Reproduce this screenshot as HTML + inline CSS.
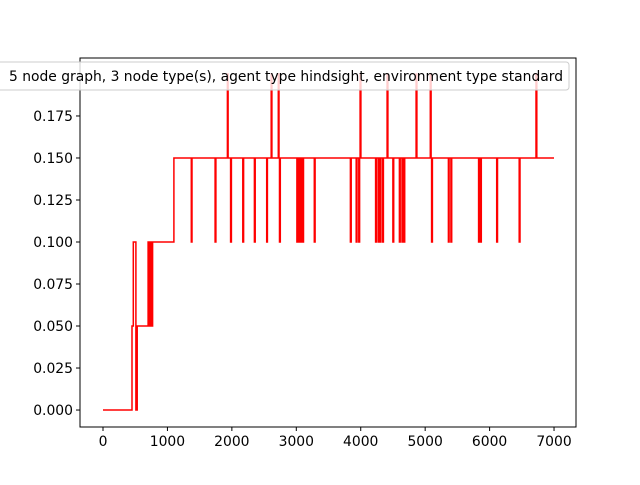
<!DOCTYPE html>
<html><head><meta charset="utf-8"><style>
body{margin:0;background:#fff}
svg{font-family:"DejaVu Sans","Liberation Sans",sans-serif;font-size:13.9px}
</style></head><body>
<svg id="c" width="640" height="480">
<rect x="0" y="0" width="640" height="480" fill="#fff"/>
<g id="plot"></g>
<rect x="80" y="58" width="496" height="369" fill="none" stroke="#000" stroke-width="1"/>
<g id="ticks"></g>
<g>
<rect x="-4" y="62" width="573" height="28" rx="3" fill="#fff" fill-opacity="0.8" stroke="#ccc"/>
<text x="9" y="81" textLength="554" lengthAdjust="spacingAndGlyphs" font-size="13.9">5 node graph, 3 node type(s), agent type hindsight, environment type standard</text>
</g>
</svg>
<script>
const baseX=[0,450,470,510,530,700,720,740,760,770,1100,7000];
const baseY=[0,0.05,0.1,0,0.05,0.1,0.05,0.1,0.05,0.1,0.15,0.15];
const downSpikes=[1370,1740,1980,2170,2350,2540,2740,3010,3040,3070,3100,3280,3840,3930,3970,4230,4270,4300,4340,4500,4600,4640,4670,5100,5360,5400,5830,5860,6110,6460];
const upSpikes=[1930,2610,2720,3990,4410,4860,5080,6720];
const downVal=0.1, upVal=0.2;
const xTicks=[0,1000,2000,3000,4000,5000,6000,7000];
const yTicks=[0,0.025,0.05,0.075,0.1,0.125,0.15,0.175];
const X0=80,X1=576,Y0=427,Y1=58,xmin=-357,xmax=7341,ymin=-0.0101,ymax=0.2095;
const sx=v=>X0+(v-xmin)/(xmax-xmin)*(X1-X0);
const sy=v=>Y0-(v-ymin)/(ymax-ymin)*(Y0-Y1);
const NS="http://www.w3.org/2000/svg";
let pts=[];
for(let i=0;i<baseX.length-1;i++){pts.push([baseX[i],baseY[i]]);pts.push([baseX[i+1],baseY[i]]);}
let final=pts.filter(p=>p[0]<=1100);
let spikes=downSpikes.map(x=>[x,downVal]).concat(upSpikes.map(x=>[x,upVal])).sort((a,b)=>a[0]-b[0]);
let lastBase=baseY[baseY.length-1];
spikes.forEach(s=>{final.push([s[0],lastBase]);final.push([s[0],s[1]]);final.push([s[0]+12,s[1]]);final.push([s[0]+12,lastBase]);});
final.push([baseX[baseX.length-1],lastBase]);
const pl=document.createElementNS(NS,'polyline');
pl.setAttribute('points',final.map(p=>sx(p[0]).toFixed(1)+','+sy(p[1]).toFixed(1)).join(' '));
pl.setAttribute('fill','none');pl.setAttribute('stroke','#ff0000');pl.setAttribute('stroke-width','1.5');


document.getElementById('plot').appendChild(pl);
const tg=document.getElementById('ticks');
xTicks.forEach(t=>{
 const l=document.createElementNS(NS,'line');
 l.setAttribute('x1',sx(t));l.setAttribute('x2',sx(t));l.setAttribute('y1',Y0);l.setAttribute('y2',Y0+4);l.setAttribute('stroke','#000');
 
 
 tg.appendChild(l);
 const tx=document.createElementNS(NS,'text');
 tx.setAttribute('x',sx(t));tx.setAttribute('y',Y0+19);tx.setAttribute('text-anchor','middle');tx.textContent=t;
 
 
 tg.appendChild(tx);
});
yTicks.forEach(t=>{
 const l=document.createElementNS(NS,'line');
 l.setAttribute('x1',X0-4);l.setAttribute('x2',X0);l.setAttribute('y1',sy(t));l.setAttribute('y2',sy(t));l.setAttribute('stroke','#000');
 
 
 tg.appendChild(l);
 const tx=document.createElementNS(NS,'text');
 tx.setAttribute('x',X0-7);tx.setAttribute('y',sy(t)+5);tx.setAttribute('text-anchor','end');tx.textContent=t.toFixed(3);
 
 
 tg.appendChild(tx);
});
</script>
</body></html>
